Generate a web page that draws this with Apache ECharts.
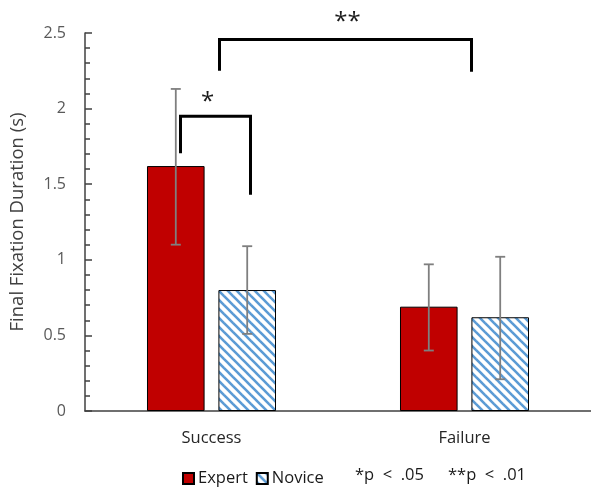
<!DOCTYPE html>
<html>
<head>
<meta charset="utf-8">
<script src="https://cdn.jsdelivr.net/npm/echarts@6/dist/echarts.min.js"></script>
<style>
html,body{margin:0;padding:0;background:#fff;}
#main{width:591px;height:489px;}
</style>
</head>
<body>
<div id="main"></div>
<script>
const categories = ['Success', 'Failure'];
const seriesNames = ['Expert', 'Novice'];
const expertMean = [1.62, 0.69];
const expertLow = [1.10, 0.40];
const expertHigh = [2.13, 0.97];
const noviceMean = [0.80, 0.62];
const noviceLow = [0.51, 0.21];
const noviceHigh = [1.09, 1.02];
const yTicks = [0, 0.5, 1, 1.5, 2, 2.5];
const noteTexts = ['*p < .05', '**p < .01'];

const FONT = '"Open Sans", "Noto Sans", sans-serif';
const CAT_GAP = 0.49, BAR_GAP = 0.24;

function hatch() {
  const c = document.createElement('canvas');
  const s = 9;
  c.width = s; c.height = s;
  const g = c.getContext('2d');
  g.fillStyle = '#fff';
  g.fillRect(0, 0, s, s);
  g.strokeStyle = '#5B9BD5';
  g.lineWidth = 2.6;
  for (const k of [-s, 0, s]) {
    g.beginPath();
    g.moveTo(k - 1, -1);
    g.lineTo(k + s + 1, s + 1);
    g.stroke();
  }
  return c;
}

const chart = echarts.init(document.getElementById('main'), null, {renderer: 'canvas'});

function errSeries(idx, low, high) {
  return {
    type: 'custom',
    silent: true,
    z: 5,
    data: categories.map((c, i) => [i, low[i], high[i]]),
    encode: {x: 0, y: [1, 2]},
    renderItem: function (params, api) {
      const band = api.size([1, 0])[0];
      const group = band * (1 - CAT_GAP);
      const bw = group / (2 + BAR_GAP);
      const off = -group / 2 + bw / 2 + idx * bw * (1 + BAR_GAP);
      const pLow = api.coord([api.value(0), api.value(1)]);
      const pHigh = api.coord([api.value(0), api.value(2)]);
      const x = pLow[0] + off;
      const cap = 5;
      const st = {stroke: '#7f7f7f', lineWidth: 1.8};
      return {
        type: 'group',
        children: [
          {type: 'line', shape: {x1: x, y1: pLow[1], x2: x, y2: pHigh[1]}, style: st},
          {type: 'line', shape: {x1: x - cap, y1: pLow[1], x2: x + cap, y2: pLow[1]}, style: st},
          {type: 'line', shape: {x1: x - cap, y1: pHigh[1], x2: x + cap, y2: pHigh[1]}, style: st}
        ]
      };
    }
  };
}

const option = {
  animation: false,
  backgroundColor: '#fff',
  grid: {left: 85, top: 33, width: 508, height: 378, containLabel: false},
  legend: {
    left: 177, top: 465,
    itemWidth: 11, itemHeight: 11, itemGap: 8,
    icon: 'rect',
    data: seriesNames,
    textStyle: {fontFamily: FONT, fontSize: 16.5, color: '#1a1a1a', padding: [0, 0, 0, -1]}
  },
  xAxis: {
    type: 'category',
    data: categories,
    axisLine: {lineStyle: {color: '#404040', width: 1.5}},
    axisTick: {show: false},
    axisLabel: {fontFamily: FONT, fontSize: 16.5, color: '#262626', margin: 19},
    splitLine: {show: false}
  },
  yAxis: {
    type: 'value',
    min: 0, max: 2.5, interval: 0.5,
    name: 'Final Fixation Duration (s)',
    nameLocation: 'middle',
    nameGap: 58,
    nameTextStyle: {fontFamily: FONT, fontSize: 18.5, color: '#404040'},
    axisLine: {show: true, lineStyle: {color: '#404040', width: 1.5}},
    axisTick: {show: true, inside: true, length: 7, lineStyle: {color: '#404040', width: 1.5}},
    minorTick: {show: true, splitNumber: 5, length: 5, lineStyle: {color: '#404040', width: 1.5}},
    axisLabel: {
      fontFamily: FONT, fontSize: 16, color: '#595959', margin: 19,
      formatter: v => { const t = yTicks.find(k => Math.abs(k - v) < 1e-9); return t === undefined ? '' : String(t); }
    },
    splitLine: {show: false}
  },
  series: [
    {
      name: seriesNames[0], type: 'bar', data: expertMean,
      barCategoryGap: (CAT_GAP * 100) + '%', barGap: (BAR_GAP * 100) + '%',
      itemStyle: {color: '#C00000', borderColor: '#000', borderWidth: 1}
    },
    {
      name: seriesNames[1], type: 'bar', data: noviceMean,
      barCategoryGap: (CAT_GAP * 100) + '%', barGap: (BAR_GAP * 100) + '%',
      itemStyle: {color: {image: hatch(), repeat: 'repeat'}, borderColor: '#000', borderWidth: 1}
    },
    errSeries(0, expertLow, expertHigh),
    errSeries(1, noviceLow, noviceHigh)
  ]
};
chart.setOption(option);

function px(cat, dx) { return chart.convertToPixel({xAxisIndex: 0}, cat) + dx; }
function py(v) { return chart.convertToPixel({yAxisIndex: 0}, v); }

function bracket(x1, x2, yTop, yL, yR) {
  return {
    type: 'polyline',
    shape: {points: [[x1, py(yL)], [x1, py(yTop)], [x2, py(yTop)], [x2, py(yR)]]},
    style: {stroke: '#000', lineWidth: 3, fill: null, lineJoin: 'miter'}
  };
}

const noteStyle = {font: '16.5px ' + FONT, fill: '#1a1a1a', verticalAlign: 'middle'};
chart.setOption({
  graphic: [
    bracket(px('Success', -31), px('Success', 39), 1.95, 1.705, 1.43),
    bracket(px('Success', 8), px('Failure', 7), 2.457, 2.25, 2.243),
    {type: 'text', x: px('Success', -4), y: py(2.04), style: {text: '*', font: '24px ' + FONT, fill: '#1a1a1a', align: 'center', verticalAlign: 'middle'}},
    {type: 'text', x: px('Success', 136), y: py(2.57), style: {text: '**', font: '24px ' + FONT, fill: '#1a1a1a', align: 'center', verticalAlign: 'middle'}},
    {type: 'text', x: 355, y: 475, style: Object.assign({text: noteTexts[0].replace(/ /g, '\u00a0\u00a0')}, noteStyle)},
    {type: 'text', x: 448, y: 475, style: Object.assign({text: noteTexts[1].replace(/ /g, '\u00a0\u00a0')}, noteStyle)}
  ]
});
</script>
</body>
</html>
